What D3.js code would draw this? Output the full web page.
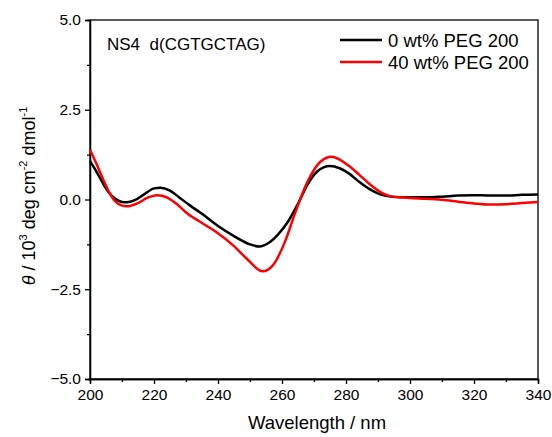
<!DOCTYPE html>
<html>
<head>
<meta charset="utf-8">
<script src="https://cdn.jsdelivr.net/npm/d3@7"></script>
<style>
body { margin: 0; background: #fff; }
svg { font-family: "Liberation Sans", Arial, sans-serif; }
</style>
</head>
<body>
<div id="chart"></div>
<script>
// wavelength (nm) and CD values (10^3 deg cm^2 dmol^-1)
var wl0 = [200, 202, 204, 206, 208, 210, 211.5, 214, 217, 220, 222, 225, 228, 231, 235, 240, 245, 250, 253, 256, 259, 262, 265, 268, 271, 275, 278, 281, 284, 287.5, 290.5, 294, 297, 300, 305, 310, 315, 320, 325, 330, 335, 340];
var peg0 = [1.07, 0.78, 0.46, 0.18, 0.01, -0.07, -0.08, -0.02, 0.15, 0.31, 0.33, 0.25, 0.05, -0.15, -0.4, -0.74, -1.02, -1.25, -1.31, -1.2, -0.95, -0.6, -0.12, 0.42, 0.78, 0.93, 0.87, 0.72, 0.5, 0.28, 0.15, 0.08, 0.06, 0.06, 0.06, 0.08, 0.11, 0.12, 0.11, 0.11, 0.13, 0.14];

var wl40 = [200, 202, 204, 206, 208, 210, 211.5, 215, 218, 221, 224, 227, 230, 234, 239, 245, 249, 254, 257, 261, 264, 268, 272, 275.5, 281, 284, 287.5, 290.5, 293.5, 297, 300, 305, 310, 315, 320, 325, 330, 335, 340];
var peg40 = [1.39, 1.0, 0.58, 0.2, -0.06, -0.17, -0.19, -0.1, 0.05, 0.12, 0.06, -0.12, -0.36, -0.6, -0.88, -1.3, -1.65, -2.0, -1.85, -1.16, -0.4, 0.5, 1.05, 1.19, 0.93, 0.7, 0.42, 0.22, 0.1, 0.06, 0.04, 0.02, -0.01, -0.06, -0.11, -0.14, -0.13, -0.1, -0.07];

var seriesNames = ["0 wt% PEG 200", "40 wt% PEG 200"];
var seriesColors = ["#000000", "#ff0000"];
var xTicks = [200, 220, 240, 260, 280, 300, 320, 340];
var yTicks = [-5.0, -2.5, 0.0, 2.5, 5.0];

var W = 552, H = 437;
var pLeft = 90, pRight = 538, pTop = 20, pBottom = 379;

var svg = d3.select("#chart").append("svg").attr("width", W).attr("height", H);

var x = d3.scaleLinear().domain([200, 340]).range([pLeft, pRight]);
var y = d3.scaleLinear().domain([-5, 5]).range([pBottom, pTop]);

// frame
svg.append("rect")
    .attr("x", pLeft).attr("y", pTop)
    .attr("width", pRight - pLeft).attr("height", pBottom - pTop)
    .attr("fill", "none").attr("stroke", "#000").attr("stroke-width", 1.3);

// x axis
svg.append("g").attr("transform", "translate(0," + pBottom + ")")
    .call(d3.axisBottom(x).tickValues(xTicks).tickSize(5).tickPadding(5).tickFormat(d3.format("d")));
svg.append("g").attr("transform", "translate(0," + pBottom + ")")
    .call(d3.axisBottom(x).tickValues(d3.range(210, 340, 20)).tickSize(3).tickFormat(""));

// y axis
svg.append("g").attr("transform", "translate(" + pLeft + ",0)")
    .call(d3.axisLeft(y).tickValues(yTicks).tickSize(5).tickPadding(4).tickFormat(d3.format(".1f")));
svg.append("g").attr("transform", "translate(" + pLeft + ",0)")
    .call(d3.axisLeft(y).tickValues([-3.75, -1.25, 1.25, 3.75]).tickSize(3).tickFormat(""));

svg.selectAll(".domain").attr("stroke-width", 1.3);
svg.selectAll(".tick line").attr("stroke-width", 1.3);
svg.selectAll(".tick text").attr("font-size", "15.5px").attr("font-family", "Liberation Sans, Arial, sans-serif").attr("fill", "#000");

// curves
var line = d3.line()
    .x(function(d){ return x(d[0]); })
    .y(function(d){ return y(d[1]); })
    .curve(d3.curveMonotoneX);

var data0 = wl0.map(function(w, i){ return [w, peg0[i]]; });
var data40 = wl40.map(function(w, i){ return [w, peg40[i]]; });

svg.append("path").datum(data0)
    .attr("d", line).attr("fill", "none")
    .attr("stroke", seriesColors[0]).attr("stroke-width", 2.5);
svg.append("path").datum(data40)
    .attr("d", line).attr("fill", "none")
    .attr("stroke", seriesColors[1]).attr("stroke-width", 2.5);

// legend
seriesNames.forEach(function(name, i){
    var ly = 40 + i * 22;
    svg.append("line")
        .attr("x1", 340).attr("x2", 382).attr("y1", ly).attr("y2", ly)
        .attr("stroke", seriesColors[i]).attr("stroke-width", 2.5);
    svg.append("text")
        .attr("x", 388).attr("y", ly + 7)
        .attr("font-size", "18.5px").text(name);
});

// sample label
svg.append("text").attr("x", 107).attr("y", 50)
    .attr("font-size", "17px").attr("xml:space", "preserve")
    .text("NS4  d(CGTGCTAG)");

// axis titles
svg.append("text")
    .attr("x", 317).attr("y", 429)
    .attr("text-anchor", "middle").attr("font-size", "18.5px")
    .text("Wavelength / nm");

var yt = svg.append("text")
    .attr("transform", "translate(35,196) rotate(-90)")
    .attr("text-anchor", "middle").attr("font-size", "18px");
yt.append("tspan").attr("font-style", "italic").text("\u03b8");
yt.append("tspan").text(" / 10");
yt.append("tspan").attr("font-size", "11px").attr("dy", -8).text("3");
yt.append("tspan").attr("dy", 8).text(" deg cm");
yt.append("tspan").attr("font-size", "11px").attr("dy", -8).text("-2");
yt.append("tspan").attr("dy", 8).text(" dmol");
yt.append("tspan").attr("font-size", "11px").attr("dy", -8).text("-1");
</script>
</body>
</html>
